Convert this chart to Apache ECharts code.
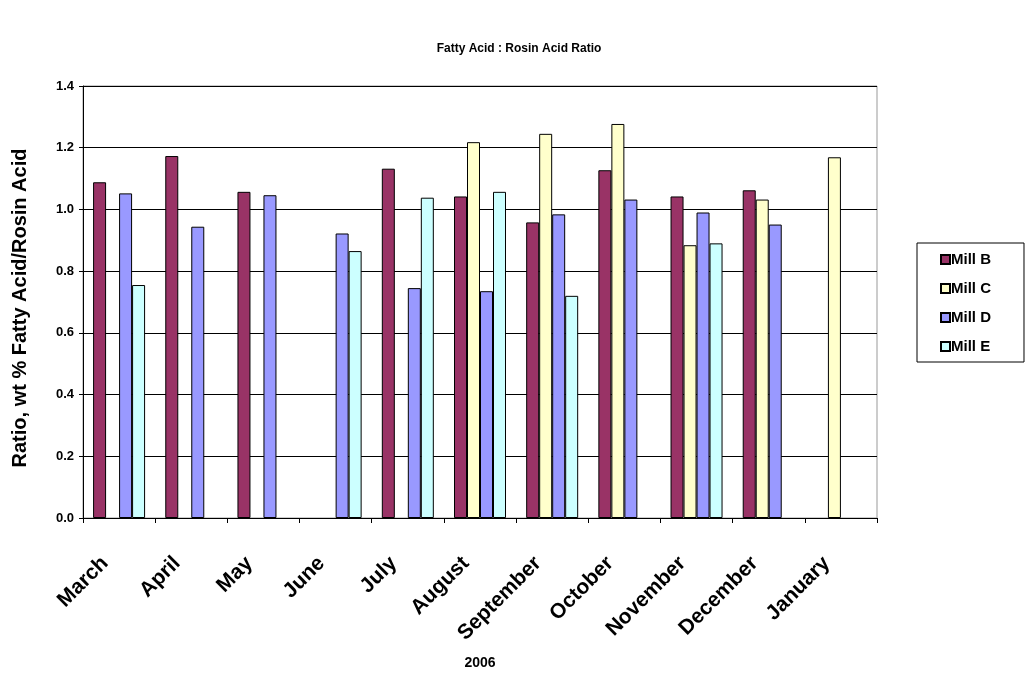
<!DOCTYPE html>
<html><head><meta charset="utf-8">
<script src="https://cdn.jsdelivr.net/npm/echarts@6/dist/echarts.min.js"></script>
<style>html,body{margin:0;padding:0;background:#fff}#c{width:1026px;height:675px}</style>
</head><body><div id="c"></div>
<script>
var categories = ['March','April','May','June','July','August','September','October','November','December','January'];
var millB = [1.088, 1.173, 1.057, null, 1.132, 1.042, 0.958, 1.127, 1.042, 1.062, null];
var millC = [null, null, null, null, null, 1.218, 1.245, 1.277, 0.884, 1.032, 1.169];
var millD = [1.052, 0.944, 1.046, 0.922, 0.745, 0.735, 0.984, 1.032, 0.990, 0.951, null];
var millE = [0.755, null, null, 0.865, 1.038, 1.057, 0.720, null, 0.890, null, null];
var yTicks = [0, 0.2, 0.4, 0.6, 0.8, 1.0, 1.2, 1.4];

var F = 'Liberation Sans, Arial, sans-serif';
var chart = echarts.init(document.getElementById('c'));
function ser(name, data, color) {
  return {name: name, type: 'bar', data: data, barWidth: 13, barGap: '0%',
    itemStyle: {color: color, borderColor: '#000', borderWidth: 1}};
}
chart.setOption({
  animation: false,
  backgroundColor: '#fff',
  title: {text: 'Fatty Acid : Rosin Acid Ratio', left: 514, top: 38, textAlign: 'center',
    textStyle: {fontFamily: F, fontWeight: 'bold', fontSize: 12, color: '#000'}},
  grid: {left: 83, top: 86, width: 794, height: 439, show: true, borderColor: '#999', borderWidth: 1, backgroundColor: '#fff'},
  legend: {orient: 'vertical', left: 917, top: 243, itemWidth: 9, itemHeight: 9, itemGap: 14,
    padding: [9, 33, 8, 23], borderColor: '#000', borderWidth: 1,
    textStyle: {fontFamily: F, fontWeight: 'bold', fontSize: 15, lineHeight: 15, color: '#000', padding: [0, 0, 0, -4]},
    icon: 'rect'},
  xAxis: {type: 'category', data: categories,
    name: '2006', nameLocation: 'middle', nameGap: 138,
    nameTextStyle: {fontFamily: F, fontWeight: 'bold', fontSize: 14, color: '#000'},
    axisLine: {lineStyle: {color: '#000'}},
    axisTick: {show: true, length: 5, lineStyle: {color: '#000'}},
    axisLabel: {rotate: 45, margin: 28, padding: [0, 20, 0, 0], fontFamily: F, fontWeight: 'bold', fontSize: 21, color: '#000'}},
  yAxis: {type: 'value', min: 0, max: 1.4, interval: 0.2,
    name: 'Ratio, wt % Fatty Acid/Rosin Acid', nameLocation: 'middle', nameGap: 53, nameRotate: 90,
    nameTextStyle: {fontFamily: F, fontWeight: 'bold', fontSize: 20, color: '#000', padding: [0, 12, 0, 0]},
    axisLine: {show: true, lineStyle: {color: '#000'}},
    axisTick: {show: true, length: 4, lineStyle: {color: '#000'}},
    splitLine: {lineStyle: {color: '#000', width: 1}},
    axisLabel: {margin: 9, fontFamily: F, fontWeight: 'bold', fontSize: 13, color: '#000',
      formatter: function (v) { return v.toFixed(1); }}},
  series: [ser('Mill B', millB, '#993366'), ser('Mill C', millC, '#FFFFCC'),
           ser('Mill D', millD, '#9999FF'), ser('Mill E', millE, '#CCFFFF')]
});
</script></body></html>
